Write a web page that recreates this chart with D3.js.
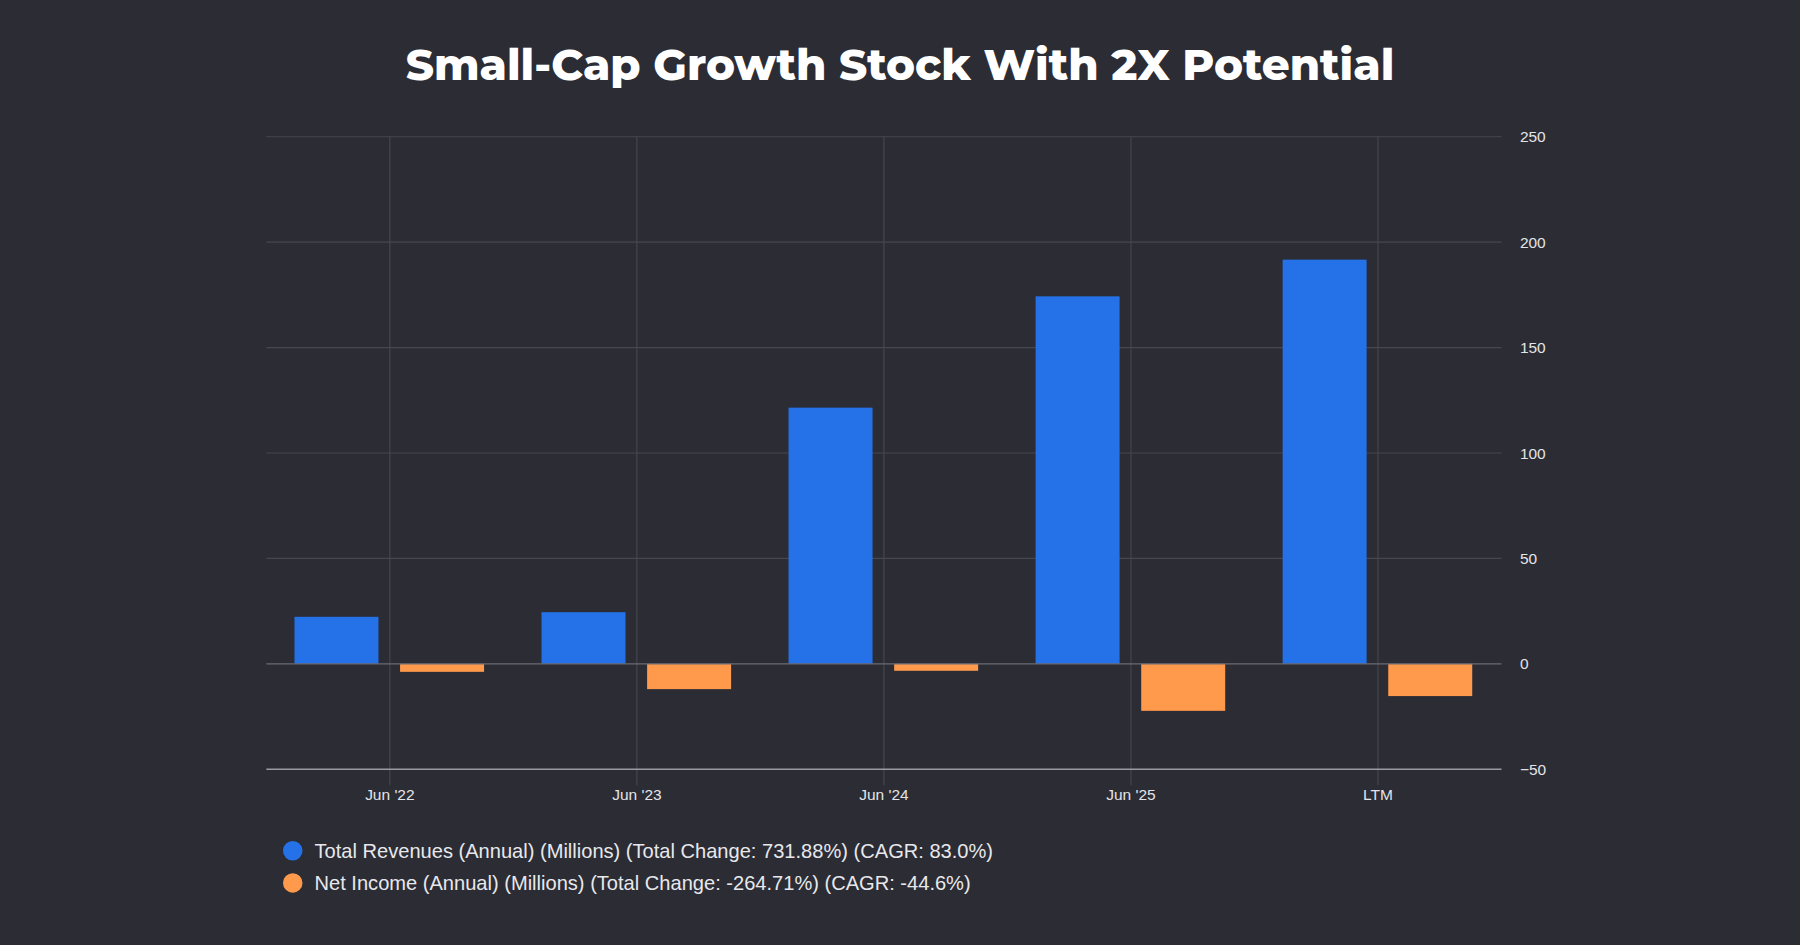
<!DOCTYPE html>
<html><head><meta charset="utf-8">
<script src="https://cdn.jsdelivr.net/npm/d3@7"></script>
<style>body{margin:0;background:#2b2c34;}svg{display:block;}</style>
</head><body><div id="chart"></div>
<script>
const categories = ["Jun '22", "Jun '23", "Jun '24", "Jun '25", "LTM"];
const revenues = [22.3, 24.5, 121.5, 174.3, 191.7];
const netIncome = [-3.8, -12, -3.3, -22.3, -15.3];
const yTicks = [-50, 0, 50, 100, 150, 200, 250];
const legendLabels = [
  "Total Revenues (Annual) (Millions) (Total Change: 731.88%) (CAGR: 83.0%)",
  "Net Income (Annual) (Millions) (Total Change: -264.71%) (CAGR: -44.6%)"
];
const colors = ["#2471e8", "#ff9a4c"];

const svg = d3.select('#chart').append('svg')
    .attr('width', 1800).attr('height', 945)
    .attr('viewBox', '0 0 1568 823');

svg.append('text').attr('x', 784).attr('y', 70).attr('text-anchor', 'middle')
    .attr('fill', '#fff').attr('font-family', 'Montserrat, "Open Sans", sans-serif')
    .attr('font-weight', 800).attr('font-size', 38).text('Small-Cap Growth Stock With 2X Potential');

const x = d3.scaleBand().domain(categories).range([232, 1308]);
const y = d3.scaleLinear().domain([-50, 250]).range([670, 119]);
const bw = x.bandwidth() * 0.34;

// gridlines
svg.append('g').selectAll('line').data(yTicks.filter(t => t !== -50 && t !== 0)).join('line')
    .attr('x1', 232).attr('x2', 1308).attr('y1', d => y(d)).attr('y2', d => y(d))
    .attr('stroke', '#46474f');
svg.append('g').selectAll('line').data(categories).join('line')
    .attr('x1', d => x(d) + x.bandwidth() / 2).attr('x2', d => x(d) + x.bandwidth() / 2)
    .attr('y1', 119).attr('y2', 684).attr('stroke', '#46474f');

// bars
const g = svg.append('g');
g.selectAll('.rev').data(revenues).join('rect').attr('class', 'rev')
    .attr('x', (d, i) => x(categories[i]) + x.bandwidth() / 2 - 46.5 - bw / 2)
    .attr('width', bw).attr('y', d => y(Math.max(0, d)))
    .attr('height', d => Math.abs(y(d) - y(0))).attr('fill', colors[0]);
g.selectAll('.ni').data(netIncome).join('rect').attr('class', 'ni')
    .attr('x', (d, i) => x(categories[i]) + x.bandwidth() / 2 + 45.5 - bw / 2)
    .attr('width', bw).attr('y', d => y(Math.max(0, d)))
    .attr('height', d => Math.abs(y(d) - y(0))).attr('fill', colors[1]);

// zero and bottom lines
svg.append('line').attr('x1', 232).attr('x2', 1308).attr('y1', y(0)).attr('y2', y(0)).attr('stroke', '#6a6b73');
svg.append('line').attr('x1', 232).attr('x2', 1308).attr('y1', y(-50)).attr('y2', y(-50)).attr('stroke', '#9a9ba2').attr('stroke-width', 1.3);

// axes
const yAxis = svg.append('g').attr('transform', 'translate(1308,0)')
    .call(d3.axisRight(y).tickValues(yTicks).tickSize(0).tickPadding(16));
const xAxis = svg.append('g').attr('transform', 'translate(0,670)')
    .call(d3.axisBottom(x).tickSize(0).tickPadding(17));
[yAxis, xAxis].forEach(a => {
  a.select('.domain').remove();
  a.selectAll('text').attr('fill', '#e4e4e8').attr('font-size', 13.5)
      .attr('font-family', 'Helvetica, "Liberation Sans", Arial, sans-serif');
});

// legend
const leg = svg.append('g').selectAll('g').data(legendLabels).join('g')
    .attr('transform', (d, i) => `translate(255,${741 + i * 28})`);
leg.append('circle').attr('r', 8.5).attr('fill', (d, i) => colors[i]);
leg.append('text').attr('x', 19).attr('dy', '0.35em').attr('fill', '#e8e8ec')
    .attr('font-size', 17.5).attr('font-family', 'Helvetica, "Liberation Sans", Arial, sans-serif')
    .text(d => d);
</script></body></html>
